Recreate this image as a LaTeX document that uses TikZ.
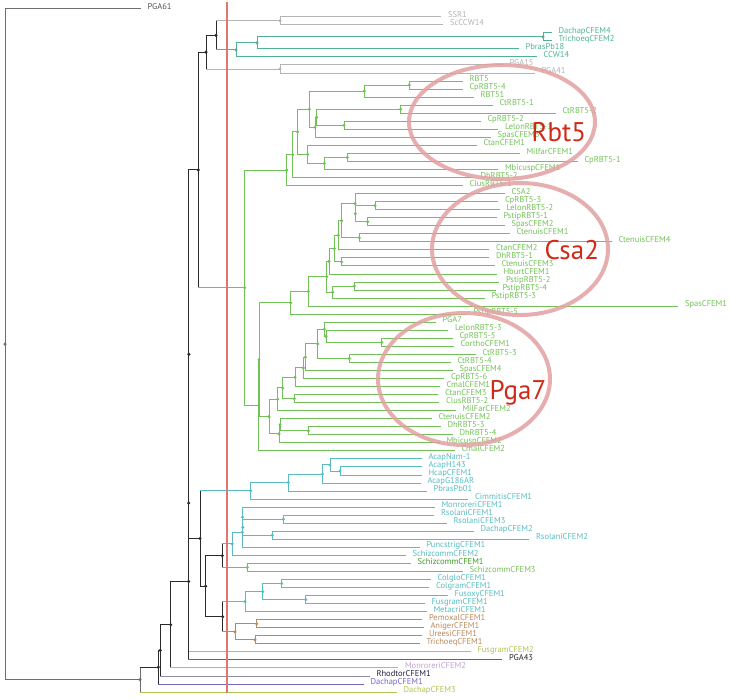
\documentclass[tikz,border=0pt]{standalone}
\usepackage{fontspec}
\setmainfont{PT Sans}
\usepackage{tikz}
\usetikzlibrary{calc}

\definecolor{cblk}{HTML}{2A2A2A}
\definecolor{cdk}{HTML}{6E6E6E}
\definecolor{cgry}{HTML}{B4B4B4}
\definecolor{ctea}{HTML}{4FB393}
\definecolor{cgrn}{HTML}{72C158}
\definecolor{cdgr}{HTML}{3E9A22}
\definecolor{ccyn}{HTML}{58BCC2}
\definecolor{cbrn}{HTML}{B98A5C}
\definecolor{colv}{HTML}{B3C153}
\definecolor{cdbr}{HTML}{8A5A3E}
\definecolor{clil}{HTML}{C1A2D4}
\definecolor{cgpu}{HTML}{8E8EA8}
\definecolor{cnav}{HTML}{1F1F3F}
\definecolor{cpur}{HTML}{7468C4}
\definecolor{cvline}{HTML}{E07672}
\definecolor{cring}{HTML}{E2A0A0}
\definecolor{ctag}{HTML}{CF2A18}

\tikzset{
  lbl/.style={anchor=base west,inner sep=0pt,xshift=7pt,yshift=-0.6pt,
    font=\fontsize{8.5}{9}\selectfont},
  ring/.style={draw=cring,line width=4pt,opacity=0.85},
  tag/.style={anchor=base west,inner sep=0pt,text=ctag,
    font=\fontsize{27}{30}\selectfont}
}

% leaf: [text opts]{name}{row}{line end}{colour}{label}
\newcommand\leaf[6][]{%
  \coordinate (#2) at (#4,{8.7+8.04*(#3-1)});
  \expandafter\def\csname tc#2\endcsname{#5}%
  \node[lbl,text=#5,#1] (#2t) at (#2) {#6};}
% branch from parent to child, in the child's colour
\newcommand\br[2]{%
  \edef\brcol{\csname tc#2\endcsname}%
  \draw[draw=\brcol] (#1 |- #2) -- (#2);}
% clade: {name}{x}{colour}{first child}{last child}
\newcommand\clade[5]{%
  \path let \p1=(#4), \p2=(#5) in (#2pt,{0.5*(\y1+\y2)}) coordinate (#1);
  \expandafter\def\csname tc#1\endcsname{#3}%
  \draw[draw=#3] (#1 |- #4) -- (#1 |- #5);
  \br{#1}{#4}\br{#1}{#5}%
  \fill[fill=#3] (#1) circle (1.7pt);}

\begin{document}
\begin{tikzpicture}[x=1pt,y=-1pt,line width=1pt,line cap=rect]
  \useasboundingbox (0,0) rectangle (730,699);

  \leaf[text=cblk!80]{l1}{1}{140}{cdk}{PGA61}
  \leaf{l2}{2}{440.5}{cgry}{SSR1}
  \leaf{l3}{3}{442.5}{cgry}{ScCCW14}
  \leaf{l4}{4}{551}{ctea}{DachapCFEM4}
  \leaf{l5}{5}{551}{ctea}{TrichoeqCFEM2}
  \leaf{l6}{6}{518}{ctea}{PbrasPb18}
  \leaf{l7}{7}{536}{ctea}{CCW14}
  \leaf{l8}{8}{502}{cgry}{PGA15}
  \leaf{l9}{9}{534}{cgry}{PGA41}
  \leaf{l10}{10}{462}{cgrn}{RBT5}
  \leaf{l11}{11}{462}{cgrn}{CpRBT5-4}
  \leaf{l12}{12}{473}{cgrn}{RBT51}
  \leaf{l13}{13}{492}{cgrn}{CtRBT5-1}
  \leaf{l14}{14}{555}{cgrn}{CtRBT5-2}
  \leaf{l15}{15}{480}{cgrn}{CpRBT5-2}
  \leaf{l16}{16}{497.5}{cgrn}{LelonRBT5-1}
  \leaf{l17}{17}{490}{cgrn}{SpasCFEM3}
  \leaf{l18}{18}{476}{cgrn}{CtanCFEM1}
  \leaf{l19}{19}{519}{cgrn}{MilfarCFEM1}
  \leaf{l20}{20}{577}{cgrn}{CpRBT5-1}
  \leaf{l21}{21}{497.5}{cgrn}{MbicuspCFEM1}
  \leaf{l22}{22}{473}{cgrn}{DhRBT5-2}
  \leaf{l23}{23}{462}{cgrn}{ClusRBT5-1}
  \leaf{l24}{24}{504}{cgrn}{CSA2}
  \leaf{l25}{25}{497.5}{cgrn}{CpRBT5-3}
  \leaf{l26}{26}{499}{cgrn}{LelonRBT5-2}
  \leaf{l27}{27}{496}{cgrn}{PstipRBT5-1}
  \leaf{l28}{28}{504}{cgrn}{SpasCFEM2}
  \leaf{l29}{29}{509}{cgrn}{CtenuisCFEM1}
  \leaf{l30}{30}{611}{cgrn}{CtenuisCFEM4}
  \leaf{l31}{31}{488.5}{cgrn}{CtanCFEM2}
  \leaf{l32}{32}{488.5}{cgrn}{DhRBT5-1}
  \leaf{l33}{33}{494}{cgrn}{CtenuisCFEM3}
  \leaf{l34}{34}{496}{cgrn}{HburtCFEM1}
  \leaf{l35}{35}{498.5}{cgrn}{PstipRBT5-2}
  \leaf{l36}{36}{495}{cgrn}{PstipRBT5-4}
  \leaf{l37}{37}{484}{cgrn}{PstipRBT5-3}
  \leaf{l38}{38}{677.5}{cgrn}{SpasCFEM1}
  \leaf{l39}{39}{466}{cgrn}{PstipRBT5-5}
  \leaf{l40}{40}{435}{cgrn}{PGA7}
  \leaf{l41}{41}{447.5}{cgrn}{LelonRBT5-3}
  \leaf{l42}{42}{452}{cgrn}{CpRBT5-5}
  \leaf{l43}{43}{453}{cgrn}{CorthoCFEM1}
  \leaf{l44}{44}{475}{cgrn}{CtRBT5-3}
  \leaf{l45}{45}{450}{cgrn}{CtRBT5-4}
  \leaf{l46}{46}{452}{cgrn}{SpasCFEM4}
  \leaf{l47}{47}{443.5}{cgrn}{CpRBT5-6}
  \leaf{l48}{48}{439}{cgrn}{CmalCFEM1}
  \leaf{l49}{49}{437.5}{cgrn}{CtanCFEM3}
  \leaf{l50}{50}{438.5}{cgrn}{ClusRBT5-2}
  \leaf{l51}{51}{455}{cgrn}{MilFarCFEM2}
  \leaf{l52}{52}{431}{cgrn}{CtenuisCFEM2}
  \leaf{l53}{53}{440}{cgrn}{DhRBT5-3}
  \leaf{l54}{54}{452}{cgrn}{DhRBT5-4}
  \leaf{l55}{55}{439}{cgrn}{MbicuspCFEM2}
  \leaf{l56}{56}{454}{cgrn}{CmalCFEM2}
  \leaf{l57}{57}{421}{ccyn}{AcapNam-1}
  \leaf{l58}{58}{421}{ccyn}{AcapH143}
  \leaf{l59}{59}{421}{ccyn}{HcapCFEM1}
  \leaf{l60}{60}{420}{ccyn}{AcapG186AR}
  \leaf{l61}{61}{426}{ccyn}{PbrasPb01}
  \leaf{l62}{62}{467.5}{ccyn}{CimmitisCFEM1}
  \leaf{l63}{63}{434}{ccyn}{MonroreriCFEM1}
  \leaf{l64}{64}{433.5}{ccyn}{RsolaniCFEM1}
  \leaf{l65}{65}{446}{ccyn}{RsolaniCFEM3}
  \leaf{l66}{66}{473}{ccyn}{DachapCFEM2}
  \leaf{l67}{67}{528.5}{ccyn}{RsolaniCFEM2}
  \leaf{l68}{68}{419}{ccyn}{PuncstrigCFEM1}
  \leaf{l69}{69}{405}{ccyn}{SchizcommCFEM2}
  \leaf[text=cdgr]{l70}{70}{410}{cgrn}{SchizcommCFEM1}
  \leaf{l71}{71}{462}{cgrn}{SchizcommCFEM3}
  \leaf{l72}{72}{430}{ccyn}{ColgloCFEM1}
  \leaf{l73}{73}{428.5}{ccyn}{ColgramCFEM1}
  \leaf{l74}{74}{447}{ccyn}{FusoxyCFEM1}
  \leaf{l75}{75}{424}{ccyn}{FusgramCFEM1}
  \leaf{l76}{76}{426}{ccyn}{MetacriCFEM1}
  \leaf{l77}{77}{421.5}{cbrn}{PemoxalCFEM1}
  \leaf{l78}{78}{423}{cbrn}{AnigerCFEM1}
  \leaf{l79}{79}{421.5}{cbrn}{UreesiCFEM1}
  \leaf{l80}{80}{419}{cbrn}{TrichoeqCFEM1}
  \leaf{l81}{81}{470}{colv}{FusgramCFEM2}
  \leaf[text=cblk]{l82}{82}{501.5}{cdbr}{PGA43}
  \leaf{l83}{83}{397.5}{clil}{MonroreriCFEM2}
  \leaf[text=cnav]{l84}{84}{369}{cgpu}{RhodtorCFEM1}
  \leaf{l85}{85}{363}{cpur}{DachapCFEM1}
  \leaf{l86}{86}{396}{colv}{DachapCFEM3}

  \clade{t1}{280}{cgry}{l2}{l3}
  \clade{t2}{543}{ctea}{l4}{l5}
  \clade{t3}{257}{ctea}{t2}{l6}
  \clade{t4}{236}{ctea}{t3}{l7}
  \clade{t5}{216}{cblk}{t1}{t4}
  \clade{t6}{280}{cgry}{l8}{l9}
  \clade{t7}{206}{cblk}{t5}{t6}

  \clade{r1}{409.3}{cgrn}{l10}{l11}
  \clade{r2}{364.3}{cgrn}{r1}{l12}
  \clade{r3}{400.7}{cgrn}{l13}{l14}
  \clade{r4}{344}{cgrn}{l15}{l16}
  \clade{r5}{316.7}{cgrn}{r3}{r4}
  \clade{r6}{315}{cgrn}{r5}{l17}
  \clade{r7}{309.3}{cgrn}{r2}{r6}
  \clade{r8}{347.3}{cgrn}{l19}{l20}
  \clade{r9}{324.3}{cgrn}{r8}{l21}
  \clade{r10}{307.7}{cgrn}{l18}{r9}
  \clade{r11}{297.7}{cgrn}{r7}{r10}
  \clade{r12}{292.7}{cgrn}{r11}{l22}
  \clade{r13}{286.7}{cgrn}{r12}{l23}

  \clade{s1}{375}{cgrn}{l25}{l26}
  \clade{s2}{367.7}{cgrn}{l27}{l28}
  \clade{s3}{355.3}{cgrn}{s1}{s2}
  \clade{s4}{355}{cgrn}{l24}{s3}
  \clade{s5}{359.3}{cgrn}{l29}{l30}
  \clade{s6}{341.7}{cgrn}{s4}{s5}
  \clade{s7}{338.3}{cgrn}{s6}{l31}
  \clade{s8}{341.7}{cgrn}{l32}{l33}
  \clade{s9}{334.3}{cgrn}{s7}{s8}
  \clade{s10}{329}{cgrn}{s9}{l34}
  \clade{s11}{354.3}{cgrn}{l35}{l36}
  \clade{s12}{332.7}{cgrn}{s11}{l37}
  \clade{s13}{326.7}{cgrn}{s10}{s12}
  \clade{s14}{308.3}{cgrn}{s13}{l38}
  \clade{s15}{290.7}{cgrn}{s14}{l39}

  \clade{p1}{381.7}{cgrn}{l42}{l43}
  \clade{p2}{326}{cgrn}{l41}{p1}
  \clade{p3}{324.3}{cgrn}{l40}{p2}
  \clade{p4}{349.3}{cgrn}{l44}{l45}
  \clade{p5}{317.7}{cgrn}{p3}{p4}
  \clade{p6}{305.3}{cgrn}{p5}{l46}
  \clade{p7}{303.3}{cgrn}{p6}{l47}
  \clade{p8}{295}{cgrn}{p7}{l48}
  \clade{p9}{294.3}{cgrn}{l49}{l50}
  \clade{p10}{282.7}{cgrn}{p8}{p9}
  \clade{p11}{277.7}{cgrn}{p10}{l51}
  \clade{p12}{308.3}{cgrn}{l53}{l54}
  \clade{p13}{280}{cgrn}{l52}{p12}
  \clade{p14}{279}{cgrn}{p13}{l55}
  \clade{p15}{269}{cgrn}{p11}{p14}
  \clade{q1}{259}{cgrn}{s15}{p15}
  \clade{q0}{258.7}{cgrn}{q1}{l56}
  \clade{g0}{244.7}{cgrn}{r13}{q0}

  \clade{a1}{340}{ccyn}{l58}{l59}
  \clade{a2}{330}{ccyn}{l57}{a1}
  \clade{a3}{322.5}{ccyn}{a2}{l60}
  \clade{a4}{288.3}{ccyn}{a3}{l61}
  \clade{a5}{250.7}{ccyn}{a4}{l62}

  \clade{b1}{283.3}{ccyn}{l64}{l65}
  \clade{b2}{272.3}{ccyn}{l66}{l67}
  \clade{b4}{242.8}{ccyn}{b1}{b2}
  \clade{b3}{242.5}{ccyn}{l63}{b4}
  \clade{b5}{242.3}{ccyn}{b3}{l68}
  \clade{b6}{232.3}{ccyn}{b5}{l69}
  \clade{b8}{247.3}{cgrn}{l70}{l71}
  \clade{b7}{222.3}{cblk}{b6}{b8}
  \clade{c3}{281.7}{ccyn}{l72}{l73}
  \clade{c4}{305.7}{ccyn}{l74}{l75}
  \clade{c2}{262.7}{ccyn}{c3}{c4}
  \clade{c1}{245}{ccyn}{c2}{l76}
  \clade{d2}{256.7}{cbrn}{l77}{l78}
  \clade{d3}{255}{cbrn}{l79}{l80}
  \clade{d1}{235}{cbrn}{d2}{d3}
  \clade{b9}{222.7}{cblk}{c1}{d1}
  \clade{h2}{205.7}{cblk}{b7}{b9}
  \clade{h1}{200}{cblk}{a5}{h2}

  \clade{k1}{198.3}{cblk}{t7}{g0}
  \clade{k2}{188.9}{cblk}{k1}{h1}
  \clade{k3}{188.7}{cblk}{k2}{l81}
  \clade{k4}{188.6}{cblk}{k3}{l82}
  \clade{k5}{170.7}{cblk}{k4}{l83}
  \clade{k6}{160.3}{cblk}{k5}{l84}
  \clade{k7}{158.3}{cblk}{k6}{l85}
  \clade{k8}{140}{cdk}{k7}{l86}
  \clade{k0}{5}{cdk}{l1}{k8}

  % marker line
  \fill[fill=cvline] (226.3,1.5) rectangle (228.2,693);

  \draw[ring] (502,122) ellipse [x radius=93pt,y radius=57pt];
  \draw[ring] (520,249) ellipse [x radius=88pt,y radius=66pt];
  \draw[ring] (464,379) ellipse [x radius=86pt,y radius=66pt];
  \node[tag] (rbt) at (531,141) {Rbt5};
  \node[tag] (csa) at (544,259) {Csa2};
  \node[tag] (pga) at (489,399) {Pga7};
\end{tikzpicture}
\end{document}
